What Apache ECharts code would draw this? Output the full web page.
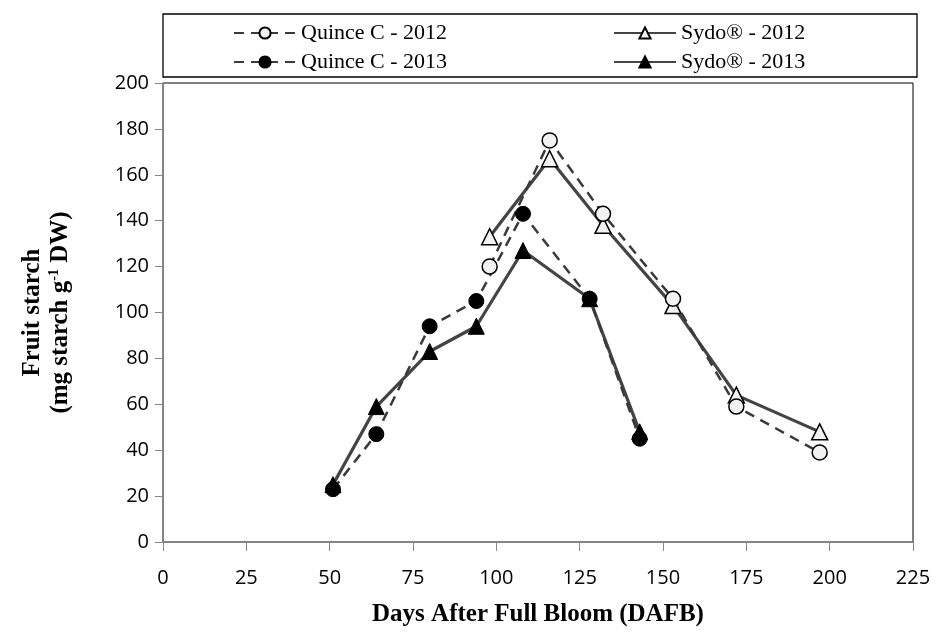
<!DOCTYPE html>
<html>
<head>
<meta charset="utf-8">
<script src="https://cdn.jsdelivr.net/npm/echarts@6/dist/echarts.min.js"></script>
<style>
  html, body { margin: 0; padding: 0; background: #fff; }
  #chart { width: 939px; height: 632px; }
</style>
</head>
<body>
<div id="chart"></div>
<script>
// days after full bloom and starch values
const days2012 = [98, 116, 132, 153, 172, 197]
const quince2012 = [120, 175, 143, 106, 59, 39]
const sydo2012 = [133, 167, 138, 103, 64, 48]

const days2013 = [51, 64, 80, 94, 108, 128, 143]
const quince2013 = [23, 47, 94, 105, 143, 106, 45]
const sydo2013 = [25, 59, 83, 94, 127, 106, 48]

const xTicks = [0, 225, 25]   // min, max, step
const yTicks = [0, 200, 20]

const pairs = (xs, ys) => xs.map((x, i) => [x, ys[i]])

const chart = echarts.init(document.getElementById('chart'))

const serif = 'Liberation Serif'
const sans = 'Open Sans'

const dashed = { color: '#3a3a3a', width: 2.5, type: [10, 7] }
const solid = { color: '#444', width: 3.2 }
const openFill = { color: '#f2f2f2', borderColor: '#000', borderWidth: 1.5 }
const blackFill = { color: '#000', borderColor: '#000', borderWidth: 1 }

const legendText = { fontFamily: serif, fontSize: 22, color: '#000' }

chart.setOption({
  animation: false,
  backgroundColor: '#fff',
  grid: { left: 163, right: 26, top: 83, bottom: 89, show: true, borderColor: '#000', borderWidth: 1 },
  graphic: [{
    type: 'rect',
    shape: { x: 163, y: 14, width: 754, height: 63 },
    style: { fill: 'none', stroke: '#000', lineWidth: 1.3 }
  }],
  legend: [
    {
      data: ['Quince C - 2012', 'Quince C - 2013'],
      orient: 'vertical', left: 228, top: 17, itemGap: 7,
      itemWidth: 62, itemHeight: 14,
      textStyle: legendText
    },
    {
      data: ['Sydo® - 2012', 'Sydo® - 2013'],
      orient: 'vertical', left: 608, top: 17, itemGap: 7,
      itemWidth: 62, itemHeight: 14,
      textStyle: legendText
    }
  ],
  xAxis: {
    type: 'value',
    min: xTicks[0], max: xTicks[1], interval: xTicks[2],
    name: 'Days After Full Bloom (DAFB)',
    nameLocation: 'middle', nameGap: 60,
    nameTextStyle: { fontFamily: serif, fontWeight: 'bold', fontSize: 25, color: '#000' },
    axisLine: { lineStyle: { color: '#868686', width: 1.5 } },
    axisTick: { inside: false, length: 9, lineStyle: { color: '#868686' } },
    axisLabel: { fontFamily: sans, fontSize: 20, color: '#000', margin: 26 },
    splitLine: { show: false }
  },
  yAxis: {
    type: 'value',
    min: yTicks[0], max: yTicks[1], interval: yTicks[2],
    name: '{b|Fruit starch}\n{b|(mg starch g}{s|-1}{b| DW)}',
    nameLocation: 'middle', nameGap: 88, nameRotate: 90,
    nameTextStyle: {
      rich: {
        b: { fontFamily: serif, fontWeight: 'bold', fontSize: 25, color: '#000', lineHeight: 28 },
        s: { fontFamily: serif, fontWeight: 'bold', fontSize: 14, color: '#000', verticalAlign: 'top', lineHeight: 28 }
      }
    },
    axisLine: { show: true, lineStyle: { color: '#868686', width: 1.5 } },
    axisTick: { show: true, inside: false, length: 8, lineStyle: { color: '#868686' } },
    axisLabel: { fontFamily: sans, fontSize: 20, color: '#000', margin: 14 },
    splitLine: { show: false }
  },
  series: [
    {
      name: 'Quince C - 2012', type: 'line', data: pairs(days2012, quince2012),
      symbol: 'circle', symbolSize: 15, lineStyle: dashed, itemStyle: openFill, z: 3
    },
    {
      name: 'Sydo® - 2012', type: 'line', data: pairs(days2012, sydo2012),
      symbol: 'triangle', symbolSize: 16, lineStyle: solid, itemStyle: openFill, z: 2
    },
    {
      name: 'Quince C - 2013', type: 'line', data: pairs(days2013, quince2013),
      symbol: 'circle', symbolSize: 15, lineStyle: dashed, itemStyle: blackFill, z: 3
    },
    {
      name: 'Sydo® - 2013', type: 'line', data: pairs(days2013, sydo2013),
      symbol: 'triangle', symbolSize: 16, lineStyle: solid, itemStyle: blackFill, z: 2
    }
  ]
})
</script>
</body>
</html>
